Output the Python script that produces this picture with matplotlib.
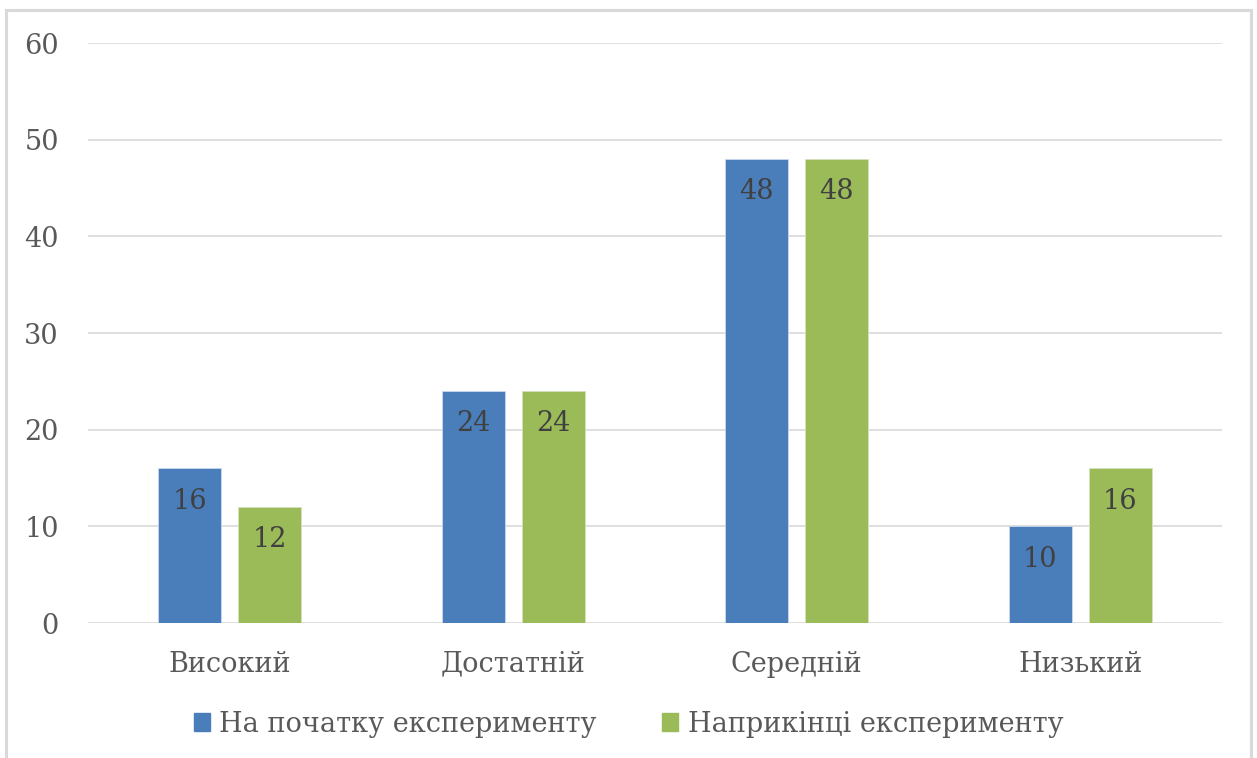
import matplotlib.pyplot as plt
import numpy as np
from matplotlib.patches import Rectangle

# дані
rivni = ['Високий', 'Достатній', 'Середній', 'Низький']
na_pochatku = [16, 24, 48, 10]
naprykintsi = [12, 24, 48, 16]
seriyi = ['На початку експерименту', 'Наприкінці експерименту']

kol_blue = '#4a7ebb'
kol_green = '#9bbb59'
txt = '#595959'

plt.rcParams['font.family'] = ['DejaVu Serif']

W, H = 1257, 758
fig = plt.figure(figsize=(W/100, H/100), dpi=100)
ax = fig.add_axes([88/W, 1-623/H, (1222-88)/W, (623-43)/H])

x = np.arange(len(rivni))
w = 0.222
b1 = ax.bar(x-0.141, na_pochatku, w, color=kol_blue, edgecolor='#c9d8ee', linewidth=0.6)
b2 = ax.bar(x+0.141, naprykintsi, w, color=kol_green, edgecolor='#d5e3bd', linewidth=0.6)

for bars in (b1, b2):
    for r in bars:
        ax.text(r.get_x()+r.get_width()/2, r.get_height()-3.4, str(int(r.get_height())),
                ha='center', va='center', fontsize=19.5, color='#404040')

ax.set_xlim(-0.5, 3.5)
ax.set_ylim(0, 60)
ax.set_yticks(range(0, 61, 10))
ax.grid(axis='y', color='#d9d9d9', linewidth=1.2)
ax.set_axisbelow(True)
for s in ax.spines.values():
    s.set_visible(False)
ax.tick_params(length=0, labelsize=19.5, colors=txt)
ax.tick_params(axis='y', pad=21)
ax.tick_params(axis='x', pad=20)
ax.set_xticks(x)
ax.set_xticklabels(rivni)

h1 = Rectangle((0, 0), 1, 1, color=kol_blue)
h2 = Rectangle((0, 0), 1, 1, color=kol_green)
leg = fig.legend([h1, h2], seriyi, loc='center', bbox_to_anchor=(0.5, 1-724/H), ncol=2,
                 frameon=False, fontsize=19.5, handlelength=0.6, handleheight=0.6,
                 handletextpad=0.35, columnspacing=2.4)
for t in leg.get_texts():
    t.set_color(txt)

# рамка
fig.patches.append(Rectangle((6/W, -0.05), (1251-6)/W, 1.05-10/H, transform=fig.transFigure,
                             fill=False, edgecolor='#d9d9d9', linewidth=2.2))

fig.savefig('out.png', dpi=100)
